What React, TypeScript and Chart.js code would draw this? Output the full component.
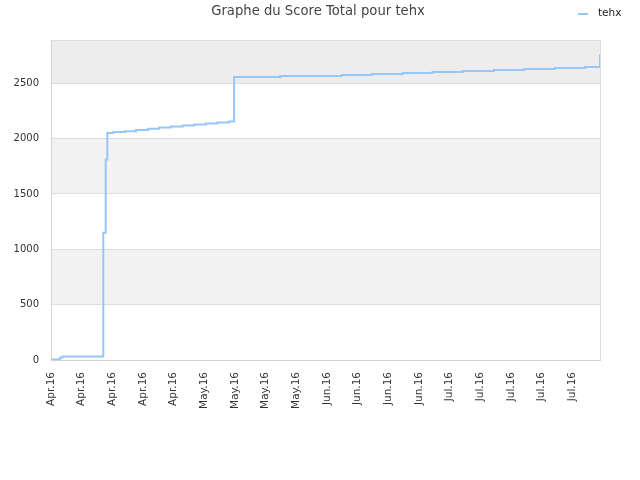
import React, { useEffect, useRef } from "react";
import { Chart, registerables } from "chart.js";

Chart.register(...registerables);

const chartTitle = "Graphe du Score Total pour tehx";
const seriesName = "tehx";
const tickLabels = [
  "Apr.16", "Apr.16", "Apr.16", "Apr.16", "Apr.16",
  "May.16", "May.16", "May.16", "May.16",
  "Jun.16", "Jun.16", "Jun.16", "Jun.16",
  "Jul.16", "Jul.16", "Jul.16", "Jul.16", "Jul.16",
];
const yTicks = [0, 500, 1000, 1500, 2000, 2500];
const stepIndex = [
  0, 2.9, 3.7, 17.05, 17.83, 18.36, 20.3, 24.1, 27.7, 31.7, 35.3, 39.1, 42.9,
  46.7, 50.5, 54.2, 58.0, 59.7, 74.7, 94.8, 104.6, 114.8, 124.4, 134.2, 144.4,
  154.3, 164.3, 174.1, 179,
];
const stepScore = [
  5, 20, 32, 1150, 1811, 2049, 2058, 2067, 2078, 2088, 2100, 2109, 2118, 2127,
  2136, 2145, 2154, 2555, 2565, 2575, 2584, 2593, 2602, 2611, 2620, 2629, 2638,
  2647, 2759,
];
const lastIndex = 179;
const yMax = 2890;
const xStep = 10;

const FONT = "'DejaVu Sans', sans-serif";
const LINE_COLOR = "#96c6f6";

const decorPlugin = {
  id: "decor",
  beforeDraw(chart: any) {
    const { ctx, chartArea } = chart;
    const y = chart.scales.y;
    const edges = [...yTicks, yMax];
    ctx.save();
    for (let i = 0; i < edges.length - 1; i++) {
      if (i % 2 === 1) {
        const top = y.getPixelForValue(edges[i + 1]);
        const bot = y.getPixelForValue(edges[i]);
        ctx.fillStyle = i === edges.length - 2 ? "#ededed" : "#f2f2f2";
        ctx.fillRect(chartArea.left, top, chartArea.right - chartArea.left, bot - top);
      }
    }
    ctx.restore();
  },
  afterDraw(chart: any) {
    const { ctx, chartArea } = chart;
    ctx.save();
    ctx.strokeStyle = "#dddddd";
    ctx.lineWidth = 1;
    const r = Math.round(chartArea.right) + 0.5;
    const t = Math.round(chartArea.top) + 0.5;
    ctx.beginPath();
    ctx.moveTo(r, chartArea.top);
    ctx.lineTo(r, chartArea.bottom);
    ctx.moveTo(chartArea.left, t);
    ctx.lineTo(chartArea.right, t);
    ctx.stroke();
    // title
    ctx.fillStyle = "#444444";
    ctx.font = `13.2px ${FONT}`;
    ctx.textAlign = "center";
    ctx.textBaseline = "middle";
    ctx.fillText(chartTitle, 318, 12);
    // legend
    ctx.fillStyle = LINE_COLOR;
    ctx.fillRect(578, 13, 10, 2);
    ctx.fillStyle = "#222222";
    ctx.font = `10.5px ${FONT}`;
    ctx.textAlign = "left";
    ctx.fillText(seriesName, 598, 13);
    ctx.restore();
  },
};

export default function App() {
  const ref = useRef<HTMLCanvasElement>(null);
  useEffect(() => {
    document.body.style.margin = "0";
    const points = stepIndex.map((x, i) => ({ x, y: stepScore[i] }));
    const chart = new Chart(ref.current!, {
      type: "line",
      data: {
        datasets: [
          {
            label: seriesName,
            data: points,
            borderColor: LINE_COLOR,
            backgroundColor: LINE_COLOR,
            borderWidth: 2,
            pointRadius: 0,
            stepped: "before",
            fill: false,
          },
        ],
      },
      options: {
        responsive: false,
        animation: false,
        layout: { padding: { top: 40, right: 40, left: 0, bottom: 0 } },
        plugins: {
          legend: { display: false },
          title: { display: false },
          tooltip: { enabled: false },
        },
        scales: {
          x: {
            type: "linear",
            min: 0,
            max: lastIndex,
            grid: { display: false, drawTicks: false },
            border: { color: "#d4d4d4" },
            afterFit: (s: any) => {
              s.height = 120;
            },
            afterBuildTicks: (s: any) => {
              s.ticks = tickLabels.map((_, i) => ({ value: i * xStep }));
            },
            ticks: {
              autoSkip: false,
              minRotation: 90,
              maxRotation: 90,
              padding: 12,
              color: "#333333",
              font: { family: FONT, size: 10.5 },
              callback: (v: any) => tickLabels[Math.round(v / xStep)] ?? "",
            },
          },
          y: {
            min: 0,
            max: yMax,
            grid: { color: "#dddddd", drawTicks: false },
            border: { color: "#d4d4d4" },
            afterFit: (s: any) => {
              s.width = 51;
            },
            afterBuildTicks: (s: any) => {
              s.ticks = yTicks.map((v) => ({ value: v }));
            },
            ticks: {
              padding: 12,
              color: "#333333",
              font: { family: FONT, size: 10 },
              callback: (v: any) => String(v),
            },
          },
        },
      },
      plugins: [decorPlugin],
    });
    return () => chart.destroy();
  }, []);
  return (
    <canvas
      ref={ref}
      width={640}
      height={480}
      style={{ display: "block", width: 640, height: 480 }}
    />
  );
}
